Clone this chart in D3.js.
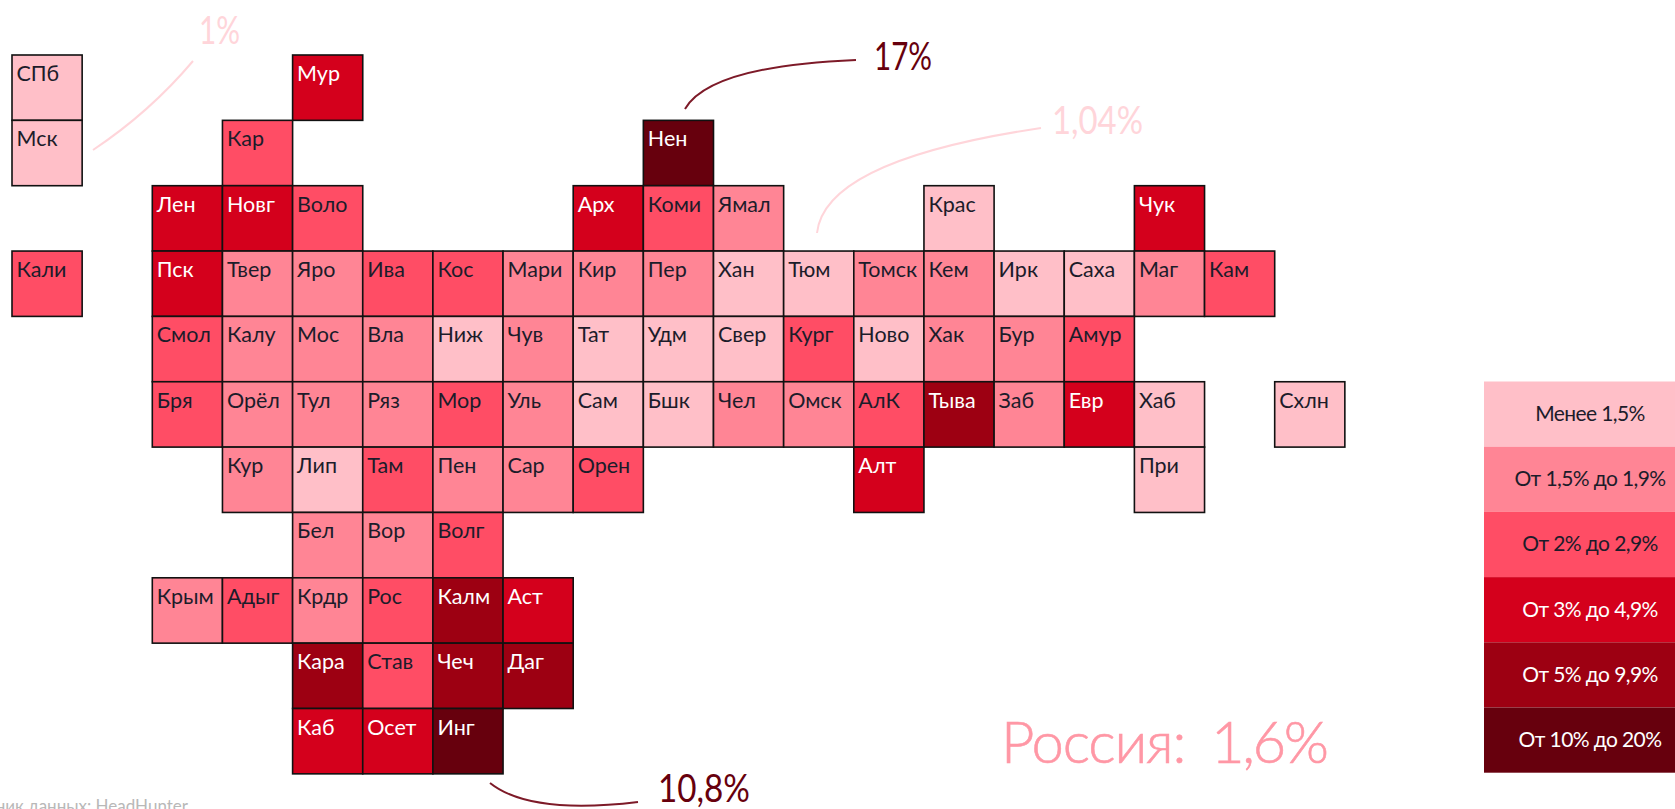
<!DOCTYPE html>
<html>
<head>
<meta charset="utf-8">
<script src="https://cdnjs.cloudflare.com/ajax/libs/d3/7.8.5/d3.min.js"></script>
<style>
  html, body { margin: 0; padding: 0; background: #fff; overflow: hidden; }
  svg { display: block; }
  text { font-family: Lato, "Open Sans", sans-serif; }
</style>
</head>
<body>
<svg id="chart" width="1675" height="809"></svg>
<script>
// One list per row of the tile grid, null is an empty column
var regionRows = [
  ["СПб", null, null, null, "Мур"],
  ["Мск", null, null, "Кар", null, null, null, null, null, "Нен"],
  [null, null, "Лен", "Новг", "Воло", null, null, null, "Арх", "Коми", "Ямал", null, null, "Крас", null, null, "Чук"],
  ["Кали", null, "Пск", "Твер", "Яро", "Ива", "Кос", "Мари", "Кир", "Пер", "Хан", "Тюм", "Томск", "Кем", "Ирк", "Саха", "Маг", "Кам"],
  [null, null, "Смол", "Калу", "Мос", "Вла", "Ниж", "Чув", "Тат", "Удм", "Свер", "Кург", "Ново", "Хак", "Бур", "Амур"],
  [null, null, "Бря", "Орёл", "Тул", "Ряз", "Мор", "Уль", "Сам", "Бшк", "Чел", "Омск", "АлК", "Тыва", "Заб", "Евр", "Хаб", null, "Схлн"],
  [null, null, null, "Кур", "Лип", "Там", "Пен", "Сар", "Орен", null, null, null, "Алт", null, null, null, "При"],
  [null, null, null, null, "Бел", "Вор", "Волг"],
  [null, null, "Крым", "Адыг", "Крдр", "Рос", "Калм", "Аст"],
  [null, null, null, null, "Кара", "Став", "Чеч", "Даг"],
  [null, null, null, null, "Каб", "Осет", "Инг"]
];

// Legend class of every region, same order as regionRows
var classRows = [
  [0, 3],
  [0, 2, 5],
  [3, 3, 2, 3, 2, 1, 0, 3],
  [2, 3, 1, 1, 2, 2, 1, 1, 1, 0, 0, 1, 1, 0, 0, 1, 2],
  [2, 1, 1, 1, 0, 1, 0, 0, 0, 2, 0, 1, 1, 2],
  [2, 1, 1, 1, 2, 1, 0, 0, 1, 1, 2, 4, 1, 3, 0, 0],
  [1, 0, 2, 1, 1, 2, 3, 0],
  [1, 1, 2],
  [1, 2, 1, 2, 4, 3],
  [4, 2, 4, 4],
  [3, 3, 5]
];

var legendLabels = ["Менее 1,5%", "От 1,5% до 1,9%", "От 2% до 2,9%", "От 3% до 4,9%", "От 5% до 9,9%", "От 10% до 20%"];
var legendColors = ["#ffbfc8", "#ff8595", "#ff4d65", "#d4001c", "#9d0012", "#67000d"];
var legendText = ["#1c1c2a", "#1c1c2a", "#1c1c2a", "#fff", "#fff", "#fff"];

var calloutLabels = ["1%", "17%", "1,04%", "10,8%"];
var totalLabel = "Россия:";
var totalValue = "1,6%";
var sourceLabel = "Источник данных: HeadHunter";

var svg = d3.select("#chart");

//------------------------------------------------------------
// Scales

var colCount = 19;
var x = d3.scaleBand().domain(d3.range(colCount)).range([12, 12 + colCount * 70.15]);
var y = d3.scaleBand().domain(d3.range(regionRows.length)).range([55, 55 + regionRows.length * 65.35]);
var fill = d3.scaleOrdinal().domain(d3.range(legendLabels.length)).range(legendColors);
var ink = d3.scaleOrdinal().domain(d3.range(legendLabels.length)).range(legendText);
var legendY = d3.scaleBand().domain(d3.range(legendLabels.length)).range([381.5, 381.5 + 6 * 65.2]);

//------------------------------------------------------------
// Flatten rows into tiles

var tiles = [];
regionRows.forEach(function(row, r) {
  var k = 0;
  row.forEach(function(name, c) {
    if (name === null) return;
    tiles.push({ name: name, col: c, row: r, cls: classRows[r][k++] });
  });
});

var tile = svg.append("g").attr("class", "tiles").selectAll("g")
  .data(tiles)
  .enter().append("g")
  .attr("transform", function(d) { return "translate(" + x(d.col) + "," + y(d.row) + ")"; });

tile.append("rect")
  .attr("width", x.bandwidth())
  .attr("height", y.bandwidth())
  .attr("fill", function(d) { return fill(d.cls); })
  .attr("stroke", "#111")
  .attr("stroke-width", 1.6);

tile.append("text")
  .attr("x", 4.5)
  .attr("y", 26)
  .attr("font-size", 21.5)
  .attr("fill", function(d) { return ink(d.cls); })
  .text(function(d) { return d.name; });

//------------------------------------------------------------
// Legend

var legend = svg.append("g").attr("class", "legend").selectAll("g")
  .data(legendLabels)
  .enter().append("g")
  .attr("transform", function(d, i) { return "translate(1484," + legendY(i) + ")"; });

legend.append("rect")
  .attr("width", 191)
  .attr("height", legendY.bandwidth())
  .attr("fill", function(d, i) { return fill(i); });

legend.append("text")
  .attr("x", 106)
  .attr("y", legendY.bandwidth() / 2 + 7)
  .attr("text-anchor", "middle")
  .attr("font-size", 21)
  .attr("letter-spacing", -0.6)
  .attr("fill", function(d, i) { return ink(i); })
  .text(function(d) { return d; });

//------------------------------------------------------------
// Callouts

function callout(x0, y0, cx, cy, x1, y1, color) {
  var p = d3.path();
  p.moveTo(x0, y0);
  p.quadraticCurveTo(cx, cy, x1, y1);
  svg.append("path")
    .attr("d", p.toString())
    .attr("fill", "none")
    .attr("stroke", color)
    .attr("stroke-width", 2);
}

callout(193, 61, 150, 112, 93, 150, "#ffd5da");
callout(856, 60, 710, 66, 685, 109, "#7d1a28");
callout(1041, 128, 825, 160, 817, 233, "#ffd5da");
callout(490, 783, 530, 815, 638, 802, "#7d1a28");

var calloutText = svg.append("g").attr("class", "callouts");
function label(text, xp, yp, len, color) {
  calloutText.append("text")
    .attr("x", xp)
    .attr("y", yp)
    .attr("font-size", 38)
    .attr("textLength", len)
    .attr("lengthAdjust", "spacingAndGlyphs")
    .attr("fill", color)
    .text(text);
}

label(calloutLabels[0], 199, 44, 41, "#ffd5da");
label(calloutLabels[1], 874, 70, 58, "#67000d");
label(calloutLabels[2], 1052, 134, 91, "#ffd5da");
label(calloutLabels[3], 658, 802, 92, "#67000d");

//------------------------------------------------------------
// Total and source

svg.append("text")
  .attr("x", 1001)
  .attr("y", 763)
  .attr("font-size", 58)
  .attr("font-weight", 300)
  .attr("letter-spacing", -1.2)
  .attr("stroke", "#ff97a5")
  .attr("stroke-width", 0.6)
  .attr("fill", "#ff97a5")
  .text(totalLabel);

svg.append("text")
  .attr("x", 1211)
  .attr("y", 763)
  .attr("font-size", 58)
  .attr("font-weight", 300)
  .attr("letter-spacing", -2.4)
  .attr("stroke", "#ff97a5")
  .attr("stroke-width", 0.6)
  .attr("fill", "#ff97a5")
  .text(totalValue);

svg.append("text")
  .attr("x", 188)
  .attr("y", 812)
  .attr("text-anchor", "end")
  .attr("font-size", 17)
  .attr("fill", "#b8b8b8")
  .text(sourceLabel);
</script>
</body>
</html>
